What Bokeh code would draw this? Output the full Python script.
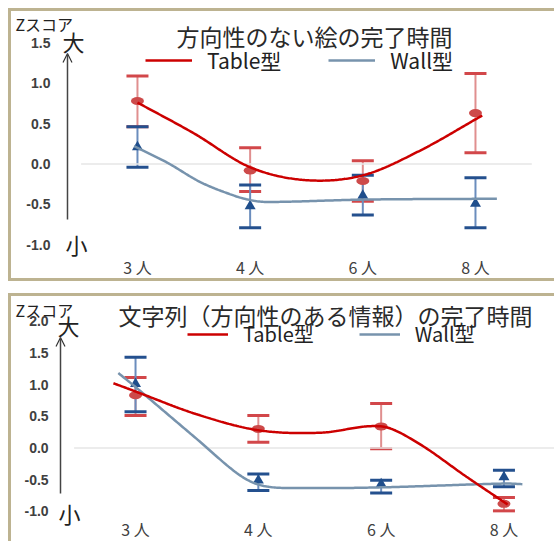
import numpy as np
from bokeh.plotting import figure
from bokeh.layouts import column
from bokeh.models import (ColumnDataSource, Range1d, Whisker, TeeHead,
                          Label, Arrow, OpenHead, Legend, LegendItem)
from bokeh.core.properties import value
from bokeh.embed import file_html
from bokeh.resources import INLINE

# ---------------- data ----------------
categories = ["3 人", "4 人", "6 人", "8 人"]
xpos = [0, 1, 2, 3]

# panel 1: 方向性のない絵の完了時間
p1_table_mean = [0.78, -0.08, -0.21, 0.63]
p1_table_upper = [1.09, 0.20, 0.04, 1.12]
p1_table_lower = [0.46, -0.34, -0.46, 0.14]
p1_wall_mean = [0.21, -0.52, -0.39, -0.49]
p1_wall_upper = [0.46, -0.26, -0.14, -0.17]
p1_wall_lower = [-0.04, -0.79, -0.63, -0.79]
# smoothed curves (knots)
p1_table_curve_x = [0.0, 0.5, 1.0, 1.5, 2.0, 2.5, 3.06]
p1_table_curve_y = [0.76, 0.38, -0.04, -0.20, -0.14, 0.16, 0.60]
p1_wall_curve_x = [-0.03, 0.26, 0.56, 0.855, 1.0, 1.15, 2.03, 3.19]
p1_wall_curve_y = [0.22, 0.02, -0.225, -0.39, -0.445, -0.47, -0.44, -0.43]
p1_yticks = [-1.0, -0.5, 0.0, 0.5, 1.0, 1.5]
p1_yticklabels = ["-1.0", "-0.5", "0.0", "0.5", "1.0", "1.5"]

# panel 2: 文字列（方向性のある情報）の完了時間
p2_table_mean = [0.83, 0.30, 0.34, -0.88]
p2_table_upper = [1.11, 0.51, 0.70, -0.78]
p2_table_lower = [0.51, 0.09, -0.01, -0.99]
p2_wall_mean = [1.01, -0.51, -0.57, -0.46]
p2_wall_upper = [1.43, -0.41, -0.51, -0.35]
p2_wall_lower = [0.57, -0.67, -0.71, -0.61]
p2_table_curve_x = [-0.18, 0.0, 0.5, 1.0, 1.5, 2.0, 2.29, 2.7, 3.03]
p2_table_curve_y = [1.02, 0.89, 0.53, 0.28, 0.24, 0.34, 0.09, -0.46, -0.89]
p2_wall_curve_x = [-0.14, 0.0, 0.5, 0.85, 1.05, 1.4, 2.0, 3.0, 3.15]
p2_wall_curve_y = [1.18, 0.96, 0.14, -0.43, -0.60, -0.63, -0.62, -0.56, -0.57]
p2_yticks = [-1.0, -0.5, 0.0, 0.5, 1.0, 1.5, 2.0]
p2_yticklabels = ["-1.0", "-0.5", "0.0", "0.5", "1.0", "1.5", "2.0"]

series_names = ["Table型", "Wall型"]
titles = ["方向性のない絵の完了時間", "文字列（方向性のある情報）の完了時間"]
axis_name = "Zスコア"
axis_high = "大"
axis_low = "小"

RED_LINE = "#cc0000"
RED_MARK = "#cd4a4a"
RED_STEM = "#e08f8f"
RED_CAP = "#d2474a"
BLUE_LINE = "#7793ad"
BLUE_MARK = "#1f4e8c"
BLUE_STEM = "#6b8dbd"
BLUE_CAP = "#24508e"
JP = "Noto Sans CJK JP"
BORDER = "3px solid #bdb391"


def smooth(xk, yk, n=240):
    xk = np.asarray(xk, float)
    yk = np.asarray(yk, float)
    m = np.empty_like(yk)
    m[1:-1] = (yk[2:] - yk[:-2]) / (xk[2:] - xk[:-2])
    m[0] = (yk[1] - yk[0]) / (xk[1] - xk[0])
    m[-1] = (yk[-1] - yk[-2]) / (xk[-1] - xk[-2])
    xs = np.linspace(xk[0], xk[-1], n)
    idx = np.clip(np.searchsorted(xk, xs, side="right") - 1, 0, len(xk) - 2)
    h = xk[idx + 1] - xk[idx]
    t = (xs - xk[idx]) / h
    h00 = 2 * t**3 - 3 * t**2 + 1
    h10 = t**3 - 2 * t**2 + t
    h01 = -2 * t**3 + 3 * t**2
    h11 = t**3 - t**2
    ys = h00 * yk[idx] + h10 * h * m[idx] + h01 * yk[idx + 1] + h11 * h * m[idx + 1]
    return xs, ys


def panel(width, height, xr, yr, styles, yticks, yticklabels, ylab_x, xlab_y,
          tmean, tup, tlow, wmean, wup, wlow, tcx, tcy, wcx, wcy,
          title, title_pos, z_pos, dai_pos, sho_pos, arrow_pos,
          legend_loc, legend_glyph_w, legend_size, legend_spacing):
    p = figure(width=width, height=height, x_range=Range1d(*xr), y_range=Range1d(*yr),
               output_backend="svg", toolbar_location=None,
               min_border_left=0, min_border_right=0, min_border_top=0,
               min_border_bottom=0, styles=styles)
    p.background_fill_color = "white"
    p.border_fill_color = "white"
    p.outline_line_color = None
    p.grid.visible = False
    p.axis.visible = False

    # tick labels, positioned through the panel's scales
    p.text(x=[ylab_x] * len(yticks), y=yticks, text=yticklabels,
           text_font=value("Liberation Sans"), text_font_style="bold",
           text_font_size="14px", text_color="#404040",
           text_align="right", text_baseline="middle")
    p.text(x=xpos, y=[xlab_y] * len(xpos), text=categories,
           text_font=value(JP), text_font_size="16px", text_color="#404040",
           text_align="center", text_baseline="middle")

    # zero reference line, spanning the category band
    p.segment(x0=[xpos[0] - 0.5], y0=[0], x1=[xpos[-1] + 0.5], y1=[0],
              line_color="#e6e6e6", line_width=1.5)

    for mean, up, low, stem, cap in ((tmean, tup, tlow, RED_STEM, RED_CAP),
                                     (wmean, wup, wlow, BLUE_STEM, BLUE_CAP)):
        src = ColumnDataSource(dict(x=xpos, upper=up, lower=low))
        w = Whisker(source=src, base="x", upper="upper", lower="lower",
                    line_color=stem, line_width=2,
                    upper_head=TeeHead(size=22, line_color=cap, line_width=3),
                    lower_head=TeeHead(size=22, line_color=cap, line_width=3))
        p.add_layout(w)

    p.ellipse(x=xpos, y=tmean, width=13, height=8, width_units="screen",
              height_units="screen", fill_color=RED_MARK, line_color=None)
    p.scatter(x=xpos, y=wmean, marker="triangle", size=11,
              fill_color=BLUE_MARK, line_color=None)

    bx, by = smooth(wcx, wcy)
    rb = p.line(bx, by, line_color=BLUE_LINE, line_width=2.5)
    tx, ty = smooth(tcx, tcy)
    rt = p.line(tx, ty, line_color=RED_LINE, line_width=2.5)

    legend = Legend(items=[LegendItem(label=series_names[0], renderers=[rt]),
                           LegendItem(label=series_names[1], renderers=[rb])],
                    orientation="horizontal", location=legend_loc,
                    glyph_width=legend_glyph_w, glyph_height=20, label_standoff=15,
                    spacing=legend_spacing, padding=0, margin=0,
                    border_line_color=None, background_fill_alpha=0,
                    label_text_font=JP, label_text_font_size=legend_size,
                    label_text_color="#222222")
    p.add_layout(legend)

    p.add_layout(Label(x=title_pos[0], y=title_pos[1], text=title, text_font=JP,
                       text_font_size="23px", text_color="#2a2a2a",
                       text_align="center", text_baseline="middle"))
    p.add_layout(Label(x=z_pos[0], y=z_pos[1], text=axis_name, text_font=JP,
                       text_font_size="16px", text_color="#222222",
                       text_align="left", text_baseline="middle"))
    p.add_layout(Label(x=dai_pos[0], y=dai_pos[1], text=axis_high, text_font=JP,
                       text_font_size="22px", text_color="#222222",
                       text_align="left", text_baseline="middle"))
    p.add_layout(Label(x=sho_pos[0], y=sho_pos[1], text=axis_low, text_font=JP,
                       text_font_size="22px", text_color="#222222",
                       text_align="left", text_baseline="middle"))
    p.add_layout(Arrow(end=OpenHead(size=9, line_width=1.2, line_color="#333333"),
                       x_start=arrow_pos[0], y_start=arrow_pos[1],
                       x_end=arrow_pos[0], y_end=arrow_pos[2],
                       line_color="#444444", line_width=1.5))
    return p


p1 = panel(546, 273, (-1.118, 3.728), (-1.491, 1.887),
           {"border-left": BORDER, "border-top": BORDER, "border-bottom": BORDER},
           p1_yticks, p1_yticklabels, -0.772, -1.269,
           p1_table_mean, p1_table_upper, p1_table_lower,
           p1_wall_mean, p1_wall_upper, p1_wall_lower,
           p1_table_curve_x, p1_table_curve_y, p1_wall_curve_x, p1_wall_curve_y,
           titles[0], (1.571, 1.584), (-1.083, 1.733), (-0.666, 1.522),
           (-0.639, -0.984), (-0.621, -0.687, 1.368),
           (134, 209), 47, "21px", 47)

p2 = panel(546, 248, (-1.010, 3.436), (-1.520, 2.386),
           {"border-left": BORDER, "border-top": BORDER},
           p2_yticks, p2_yticklabels, -0.708, -1.268,
           p2_table_mean, p2_table_upper, p2_table_lower,
           p2_wall_mean, p2_wall_upper, p2_wall_lower,
           p2_table_curve_x, p2_table_curve_y, p2_wall_curve_x, p2_wall_curve_y,
           titles[1], (1.547, 2.087), (-0.977, 2.181), (-0.635, 1.945),
           (-0.627, -1.031), (-0.611, -0.717, 1.740),
           (176, 196), 41, "20px", 45)

layout = column(p1, p2, spacing=12, margin=(8, 0, 0, 8))
open("out.html", "w").write(file_html(layout, INLINE))
